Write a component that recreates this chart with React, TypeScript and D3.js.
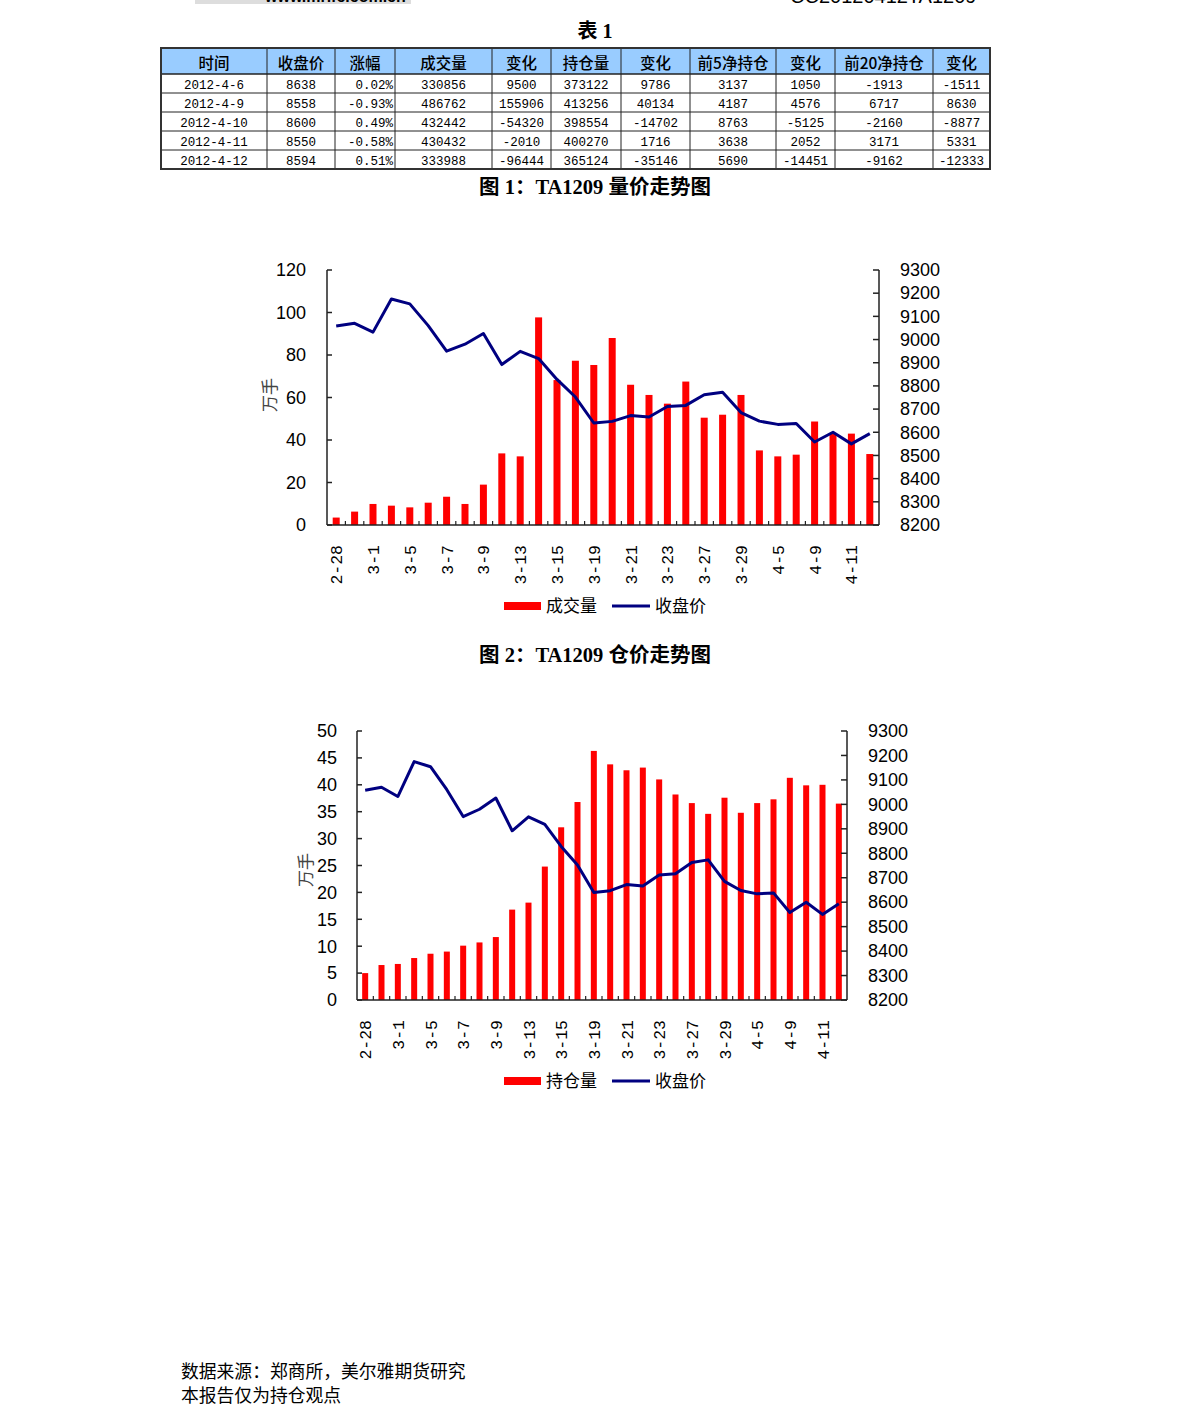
import React from "react";
import * as d3 from "d3";

// ---------- Data ----------
const tableHeaders = ["时间", "收盘价", "涨幅", "成交量", "变化", "持仓量", "变化", "前5净持仓", "变化", "前20净持仓", "变化"];
const tableDates = ["2012-4-6", "2012-4-9", "2012-4-10", "2012-4-11", "2012-4-12"];
const tableClose = [8638, 8558, 8600, 8550, 8594];
const tablePct = ["0.02%", "-0.93%", "0.49%", "-0.58%", "0.51%"];
const tableVolume = [330856, 486762, 432442, 430432, 333988];
const tableVolumeChg = [9500, 155906, -54320, -2010, -96444];
const tableOI = [373122, 413256, 398554, 400270, 365124];
const tableOIChg = [9786, 40134, -14702, 1716, -35146];
const tableTop5 = [3137, 4187, 8763, 3638, 5690];
const tableTop5Chg = [1050, 4576, -5125, 2052, -14451];
const tableTop20 = [-1913, 6717, -2160, 3171, -9162];
const tableTop20Chg = [-1511, 8630, -8877, 5331, -12333];

const dates = ["2-28", "2-29", "3-1", "3-2", "3-5", "3-6", "3-7", "3-8", "3-9", "3-12", "3-13", "3-14", "3-15", "3-16", "3-19", "3-20", "3-21", "3-22", "3-23", "3-26", "3-27", "3-28", "3-29", "3-30", "4-5", "4-6", "4-9", "4-10", "4-11", "4-12"];
const closePrice = [9058, 9070, 9032, 9175, 9154, 9060, 8950, 8980, 9026, 8892, 8949, 8918, 8828, 8752, 8640, 8647, 8672, 8666, 8711, 8716, 8762, 8773, 8685, 8648, 8634, 8638, 8558, 8600, 8550, 8594];
const volumeWan = [3.5, 6.3, 9.9, 9.1, 8.3, 10.5, 13.3, 9.9, 19.0, 33.7, 32.3, 97.7, 68.2, 77.3, 75.3, 88.0, 66.0, 61.2, 57.1, 67.5, 50.5, 51.9, 61.2, 35.1, 32.3, 33.1, 48.7, 43.2, 43.0, 33.4];
const openInterestWan = [5.0, 6.5, 6.7, 7.8, 8.6, 9.0, 10.1, 10.7, 11.7, 16.8, 18.1, 24.8, 32.1, 36.8, 46.3, 43.8, 42.7, 43.2, 41.0, 38.2, 36.6, 34.6, 37.6, 34.8, 36.6, 37.3, 41.3, 39.9, 40.0, 36.5];

const priceTicks = [8200, 8300, 8400, 8500, 8600, 8700, 8800, 8900, 9000, 9100, 9200, 9300];
const volTicks = [0, 20, 40, 60, 80, 100, 120];
const oiTicks = [0, 5, 10, 15, 20, 25, 30, 35, 40, 45, 50];

const CJK = "'Noto Sans CJK SC', sans-serif";
const SANS = "'Liberation Sans', Arial, sans-serif";
const MONO = "'Liberation Mono', 'Noto Sans CJK SC', monospace";
const TITLE = "'Liberation Serif', 'Noto Sans CJK SC', serif";

type ChartProps = {
  left: number; right: number; top: number; bottom: number;
  leftTicks: number[]; bars: number[]; barWidth: number; barLabel: string;
  leftLabelX: number; rightLabelX: number; yTitleX: number; yTitleY: number;
  xLabelTop: number; legendY: number;
};

function ComboChart(p: ChartProps) {
  const x = d3.scaleBand<string>().domain(dates).range([p.left, p.right]).padding(0);
  const yL = d3.scaleLinear().domain([p.leftTicks[0], p.leftTicks[p.leftTicks.length - 1]]).range([p.bottom, p.top]);
  const yR = d3.scaleLinear().domain([8200, 9300]).range([p.bottom, p.top]);
  const line = d3.line<number>().x((_, i) => (x(dates[i]) as number) + x.bandwidth() / 2).y((d) => yR(d));
  const axisColor = "#222";
  return (
    <g>
      {p.bars.map((v, i) => (
        <rect key={"b" + i} x={(x(dates[i]) as number) + x.bandwidth() / 2 - p.barWidth / 2} y={yL(v)} width={p.barWidth} height={p.bottom - yL(v)} fill="#FF0000" />
      ))}
      <path d={line(closePrice) || ""} fill="none" stroke="#000080" strokeWidth={3} strokeLinejoin="round" />
      {/* left axis */}
      <line x1={p.left} x2={p.left} y1={p.top} y2={p.bottom} stroke={axisColor} strokeWidth={1.5} />
      {p.leftTicks.map((t) => (
        <g key={"l" + t}>
          <line x1={p.left} x2={p.left + 5} y1={yL(t)} y2={yL(t)} stroke={axisColor} strokeWidth={1.5} />
          <text x={p.leftLabelX} y={yL(t)} dy="0.35em" textAnchor="end" fontFamily={SANS} fontSize={18} fill="#000">{t}</text>
        </g>
      ))}
      {/* right axis */}
      <line x1={p.right} x2={p.right} y1={p.top} y2={p.bottom} stroke={axisColor} strokeWidth={1.5} />
      {priceTicks.map((t) => (
        <g key={"r" + t}>
          <line x1={p.right - 6} x2={p.right} y1={yR(t)} y2={yR(t)} stroke={axisColor} strokeWidth={1.5} />
          <text x={p.rightLabelX} y={yR(t)} dy="0.35em" textAnchor="start" fontFamily={SANS} fontSize={18} fill="#000">{t}</text>
        </g>
      ))}
      {/* bottom axis */}
      <line x1={p.left} x2={p.right} y1={p.bottom} y2={p.bottom} stroke={axisColor} strokeWidth={1.5} />
      {dates.map((d, i) => i > 0 ? (
        <line key={"t" + i} x1={x(d) as number} x2={x(d) as number} y1={p.bottom} y2={p.bottom - 4} stroke={axisColor} strokeWidth={1.2} />
      ) : null)}
      {dates.map((d, i) => i % 2 === 0 ? (
        <text key={"x" + i} transform={`translate(${(x(d) as number) + x.bandwidth() / 2 + 6},${p.xLabelTop}) rotate(-90)`} textAnchor="end" fontFamily={MONO} fontSize={16.5} fill="#000">{d}</text>
      ) : null)}
      {/* y title */}
      <text transform={`translate(${p.yTitleX},${p.yTitleY}) rotate(-90)`} textAnchor="middle" dy="0.35em" fontFamily={CJK} fontSize={17} fill="#444">万手</text>
      {/* legend */}
      <rect x={504} y={p.legendY - 4} width={37} height={8} fill="#FF0000" />
      <text x={546} y={p.legendY} dy="0.38em" fontFamily={CJK} fontSize={17} fill="#000">{p.barLabel}</text>
      <line x1={612} x2={650} y1={p.legendY} y2={p.legendY} stroke="#000080" strokeWidth={3} />
      <text x={655} y={p.legendY} dy="0.38em" fontFamily={CJK} fontSize={17} fill="#000">收盘价</text>
    </g>
  );
}

function DataTable() {
  const colX = [161, 267, 335, 395, 492, 551, 621, 690, 776, 835, 933, 990];
  const headerTop = 48, headerBottom = 74, rowH = 19;
  const rows = tableDates.map((d, i) => [
    d, String(tableClose[i]), tablePct[i], String(tableVolume[i]), String(tableVolumeChg[i]), String(tableOI[i]),
    String(tableOIChg[i]), String(tableTop5[i]), String(tableTop5Chg[i]), String(tableTop20[i]), String(tableTop20Chg[i]),
  ]);
  const tableBottom = headerBottom + rowH * rows.length;
  return (
    <g>
      <rect x={colX[0]} y={headerTop} width={colX[colX.length - 1] - colX[0]} height={headerBottom - headerTop} fill="#99CCFF" />
      {tableHeaders.map((h, j) => (
        <text key={"h" + j} x={(colX[j] + colX[j + 1]) / 2} y={(headerTop + headerBottom) / 2 + 2} dy="0.38em" textAnchor="middle" fontFamily={CJK} fontWeight={500} fontSize={15.5} fill="#000">{h}</text>
      ))}
      {rows.map((r, i) => r.map((c, j) => {
        const cy = headerBottom + rowH * i + rowH / 2 + 1;
        const isPct = j === 2;
        return (
          <text key={`c${i}-${j}`} x={isPct ? colX[j + 1] - 2 : (colX[j] + colX[j + 1]) / 2} y={cy} dy="0.35em" textAnchor={isPct ? "end" : "middle"} fontFamily={MONO} fontSize={12.5} fill="#000">{c}</text>
        );
      }))}
      {rows.map((_, i) => i > 0 ? (
        <line key={"rl" + i} x1={colX[0]} x2={colX[colX.length - 1]} y1={headerBottom + rowH * i} y2={headerBottom + rowH * i} stroke="#222" strokeWidth={1} />
      ) : null)}
      <line x1={colX[0]} x2={colX[colX.length - 1]} y1={headerBottom} y2={headerBottom} stroke="#222" strokeWidth={1.5} />
      {colX.slice(1, -1).map((cx, j) => (
        <line key={"cl" + j} x1={cx} x2={cx} y1={headerTop} y2={tableBottom} stroke="#222" strokeWidth={1} />
      ))}
      <rect x={colX[0]} y={headerTop} width={colX[colX.length - 1] - colX[0]} height={tableBottom - headerTop} fill="none" stroke="#333" strokeWidth={2} />
    </g>
  );
}

export default function App() {
  return (
    <div>
      <style>{`html,body{margin:0;padding:0;background:#fff;}`}</style>
      <svg width={1191} height={1427} style={{ display: "block" }}>
        <rect x={0} y={0} width={1191} height={1427} fill="#fff" />
        {/* page header, cut at the top edge as in the source page */}
        <rect x={195} y={0} width={216} height={4} fill="#dddddd" />
        <text x={265} y={2} fontFamily={SANS} fontWeight="bold" fontSize={16} fill="#000">www.mrlfc.com.cn</text>
        <text x={790} y={3} fontFamily={SANS} fontSize={20} fill="#000">CC20120412TA1209</text>

        <text x={595} y={31} dy="0.35em" textAnchor="middle" fontFamily={TITLE} fontWeight="bold" fontSize={20} fill="#000">表 1</text>
        <DataTable />

        <text x={595} y={187} dy="0.35em" textAnchor="middle" fontFamily={TITLE} fontWeight="bold" fontSize={20.5} fill="#000">图 1：TA1209 量价走势图</text>
        <ComboChart left={327} right={879} top={270} bottom={525} leftTicks={volTicks} bars={volumeWan} barWidth={7} barLabel="成交量"
          leftLabelX={306} rightLabelX={900} yTitleX={270} yTitleY={395} xLabelTop={545} legendY={606} />

        <text x={595} y={655} dy="0.35em" textAnchor="middle" fontFamily={TITLE} fontWeight="bold" fontSize={20.5} fill="#000">图 2：TA1209 仓价走势图</text>
        <ComboChart left={357} right={847} top={731} bottom={1000} leftTicks={oiTicks} bars={openInterestWan} barWidth={6} barLabel="持仓量"
          leftLabelX={337} rightLabelX={868} yTitleX={306} yTitleY={870} xLabelTop={1020} legendY={1081} />

        <text x={181} y={1372} dy="0.35em" fontFamily={CJK} fontSize={17.8} fill="#000">数据来源：郑商所，美尔雅期货研究</text>
        <text x={181} y={1396} dy="0.35em" fontFamily={CJK} fontSize={17.8} fill="#000">本报告仅为持仓观点</text>
      </svg>
    </div>
  );
}
